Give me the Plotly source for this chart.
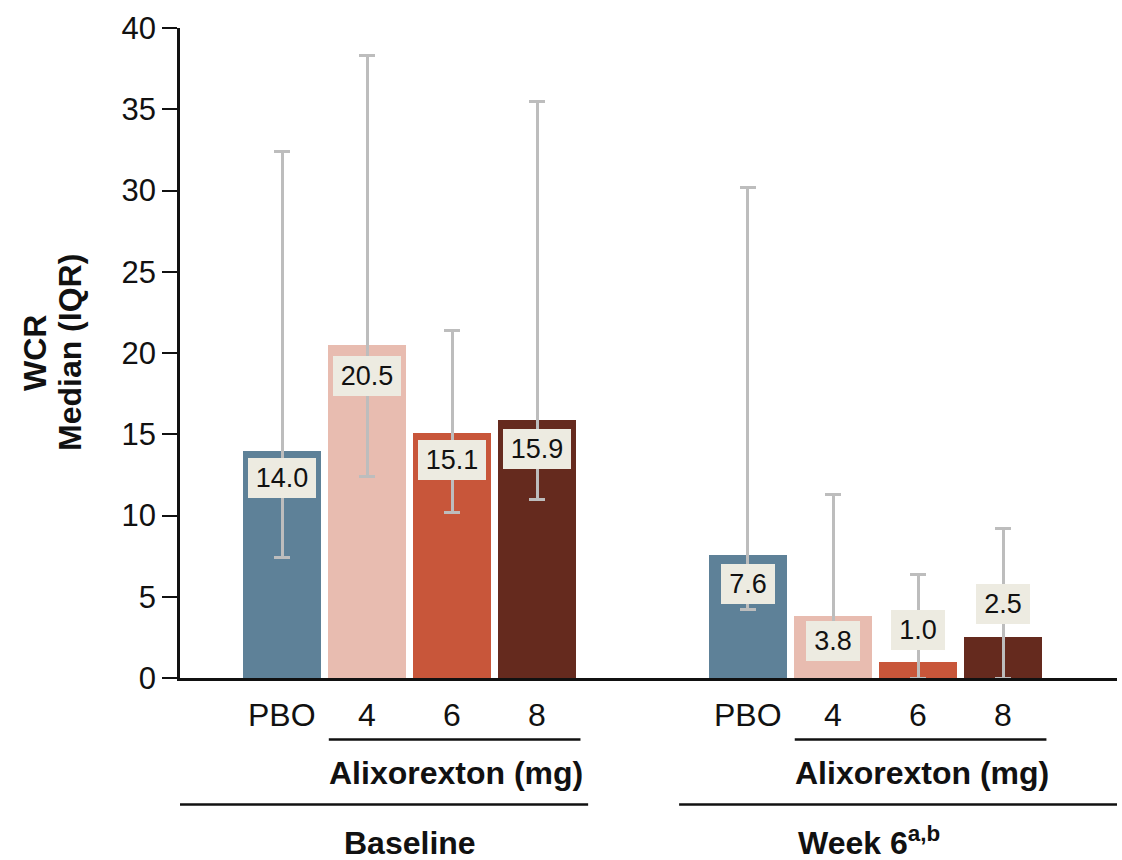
import plotly.graph_objects as go

# ---------------- data ----------------
doses = ["PBO", "4", "6", "8"]
timepoints = ["Baseline", "Week 6<sup>a,b</sup>"]
baseline_median = [14.0, 20.5, 15.1, 15.9]
baseline_q1 = [7.4, 12.4, 10.2, 11.0]
baseline_q3 = [32.4, 38.3, 21.4, 35.5]
week6_median = [7.6, 3.8, 1.0, 2.5]
week6_q1 = [4.2, 2.0, 0.0, 0.0]
week6_q3 = [30.2, 11.3, 6.4, 9.2]
y_tickvals = [0, 5, 10, 15, 20, 25, 30, 35, 40]
y_title = ["WCR", "Median (IQR)"]

# ---------------- style ----------------
FONT = "Liberation Sans, Arial, Helvetica, sans-serif"
INK = "#111111"
bar_colors = ["#5E8198", "#E8BCB0", "#C8563A", "#652A1E"]
err_color = "#BDBDBD"
label_bg = "#EDEBE1"
group_offsets = [0.0, 5.48]
label_shift = [[-27, -31, -27, -29], [-29, -25, 32, 33]]  # px offset of value boxes
timepoint_xshift = [0, -7]

medians = [baseline_median, week6_median]
q1s = [baseline_q1, week6_q1]
q3s = [baseline_q3, week6_q3]

fig = go.Figure()
annotations = []
shapes = []

for g, off in enumerate(group_offsets):
    xs = [off + i for i in range(len(doses))]
    med = medians[g]
    fig.add_trace(go.Bar(
        x=xs, y=med, width=0.918,
        marker=dict(color=bar_colors, line=dict(width=0)),
        error_y=dict(type="data", symmetric=False,
                     array=[q3 - m for q3, m in zip(q3s[g], med)],
                     arrayminus=[m - q1 for q1, m in zip(q1s[g], med)],
                     color=err_color, thickness=3, width=8),
        showlegend=False, hoverinfo="skip",
    ))
    # value labels
    for i, (x, v) in enumerate(zip(xs, med)):
        txt = f"{v:.1f}"
        annotations.append(dict(
            x=x, y=v, xref="x", yref="y", text=txt, showarrow=False,
            yshift=label_shift[g][i], yanchor="middle",
            bgcolor=label_bg, borderwidth=0, borderpad=0,
            width=14 * len(txt) + 12, height=40,
            font=dict(family=FONT, size=27, color=INK),
        ))
    # dose labels
    for x, d in zip(xs, doses):
        annotations.append(dict(
            x=x, y=0, xref="x", yref="paper", yshift=-36.5, yanchor="middle",
            text=d, showarrow=False,
            font=dict(family=FONT, size=32, color=INK),
        ))
    # Alixorexton label
    annotations.append(dict(
        x=off + 2.05, y=0, xref="x", yref="paper", yshift=-94.5, yanchor="middle",
        text="<b>Alixorexton (mg)</b>", showarrow=False,
        font=dict(family=FONT, size=32, color=INK),
    ))
    # timepoint label
    annotations.append(dict(
        x=off + 1.5, y=0, xref="x", yref="paper", yshift=-185, yanchor="bottom",
        xshift=timepoint_xshift[g],
        text=f"<b>{timepoints[g]}</b>", showarrow=False,
        font=dict(family=FONT, size=32, color=INK),
    ))
    # short line under doses
    shapes.append(dict(type="line", xref="x", yref="paper", ysizemode="pixel", yanchor=0,
                       x0=off + 0.55, x1=off + 3.51, y0=-61.5, y1=-61.5,
                       line=dict(color=INK, width=2.5)))

# long lines under groups
shapes.append(dict(type="line", xref="x", yref="paper", ysizemode="pixel", yanchor=0,
                   x0=-1.2, x1=3.6, y0=-126.5, y1=-126.5,
                   line=dict(color=INK, width=2.5)))
shapes.append(dict(type="line", xref="x", yref="paper", ysizemode="pixel", yanchor=0,
                   x0=group_offsets[1] - 0.81, x1=9.82, y0=-126.5, y1=-126.5,
                   line=dict(color=INK, width=2.5)))

# y-axis title (two rotated lines)
for line_text, xs_px in zip(y_title, [-145, -110]):
    annotations.append(dict(
        x=0, y=0.5, xref="paper", yref="paper", xshift=xs_px, xanchor="center", yanchor="middle",
        text=f"<b>{line_text}</b>", showarrow=False, textangle=-90,
        font=dict(family=FONT, size=32, color=INK),
    ))

fig.update_layout(
    width=1122, height=860,
    margin=dict(l=180, r=5, t=28, b=181.5),
    paper_bgcolor="white", plot_bgcolor="white",
    bargap=0,
    annotations=annotations, shapes=shapes,
    xaxis=dict(range=[-1.2, 9.82], showgrid=False, zeroline=False,
               showline=True, linecolor=INK, linewidth=2.5,
               showticklabels=False, ticks=""),
    yaxis=dict(range=[0, 40], tickvals=y_tickvals, showgrid=False, zeroline=False,
               showline=True, linecolor=INK, linewidth=2.5,
               ticks="outside", ticklen=15, tickwidth=2, tickcolor=INK,
               tickfont=dict(family=FONT, size=31, color=INK)),
    font=dict(family=FONT),
)

fig.write_html("out.html")
